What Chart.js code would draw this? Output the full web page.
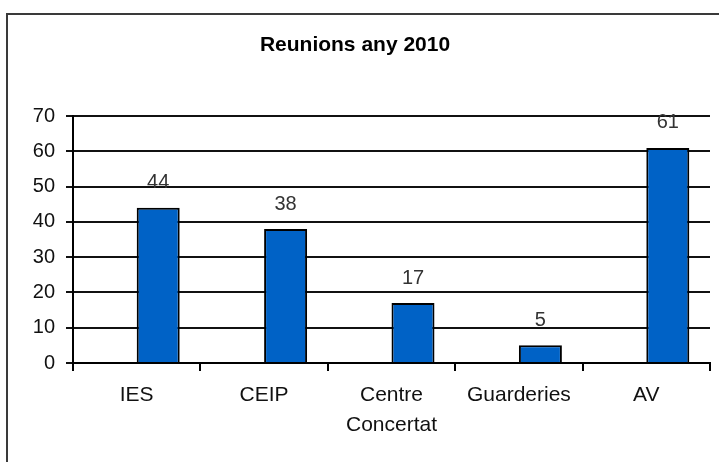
<!DOCTYPE html>
<html>
<head>
<meta charset="utf-8">
<script src="https://cdn.jsdelivr.net/npm/chart.js@4"></script>
<style>
  body { margin: 0; background: #fff; overflow: hidden; }
  #frame {
    position: absolute; left: 6px; top: 13px;
    width: 900px; height: 700px;
    border: 2px solid #3a3a3a;
  }
  #chart { position: absolute; left: 0; top: 0; }
</style>
</head>
<body>
<div id="frame"></div>
<canvas id="chart" width="719" height="462"></canvas>
<script>
const categories = ['IES', 'CEIP', ['Centre', 'Concertat'], 'Guarderies', 'AV'];
const reunions = [44, 38, 17, 5, 61];
const yTicks = [0, 10, 20, 30, 40, 50, 60, 70];
// excel left an empty slot before each bar, keep it as an empty series
const emptySlot = categories.map(() => null);

const font = 'Liberation Sans, Arial, sans-serif';

const valueLabels = {
  id: 'valueLabels',
  afterDatasetsDraw(chart) {
    const ctx = chart.ctx;
    const meta = chart.getDatasetMeta(1);
    ctx.save();
    ctx.font = '20px ' + font;
    ctx.fillStyle = '#333';
    ctx.textAlign = 'center';
    ctx.textBaseline = 'middle';
    meta.data.forEach((bar, i) => {
      ctx.fillText(reunions[i], bar.x, bar.y - 25);
    });
    ctx.restore();
  }
};

new Chart(document.getElementById('chart').getContext('2d'), {
  type: 'bar',
  data: {
    labels: categories,
    datasets: [
      { label: '', data: emptySlot },
      {
        label: 'Reunions',
        data: reunions,
        backgroundColor: '#0062c6',
        borderColor: '#000',
        borderWidth: 2
      }
    ]
  },
  options: {
    responsive: false,
    animation: false,
    categoryPercentage: 0.675,
    barPercentage: 1,
    layout: { padding: { top: 0, left: 0, right: 9, bottom: 0 } },
    plugins: {
      legend: { display: false },
      tooltip: { enabled: false },
      title: {
        display: true,
        text: 'Reunions any 2010',
        color: '#000',
        font: { family: font, size: 21, weight: 'bold', lineHeight: 1.2 },
        padding: { top: 33, bottom: 58 }
      }
    },
    scales: {
      x: {
        afterFit: (s) => { s.height = 99; },
        border: { color: '#000', width: 2 },
        grid: {
          offset: true,
          drawOnChartArea: false,
          drawTicks: true,
          tickLength: 8,
          color: '#000',
          lineWidth: 2
        },
        ticks: {
          color: '#111',
          padding: 9,
          maxRotation: 0,
          autoSkip: false,
          font: { family: font, size: 21, lineHeight: 1.43 }
        }
      },
      y: {
        min: 0,
        max: 70,
        afterFit: (s) => { s.width = 73; },
        afterBuildTicks: (s) => { s.ticks = yTicks.map(v => ({ value: v })); },
        border: { color: '#000', width: 2 },
        grid: { color: '#111', lineWidth: 2, tickLength: 7 },
        ticks: {
          color: '#111',
          padding: 11,
          font: { family: font, size: 20 }
        }
      }
    }
  },
  plugins: [valueLabels]
});
</script>
</body>
</html>
